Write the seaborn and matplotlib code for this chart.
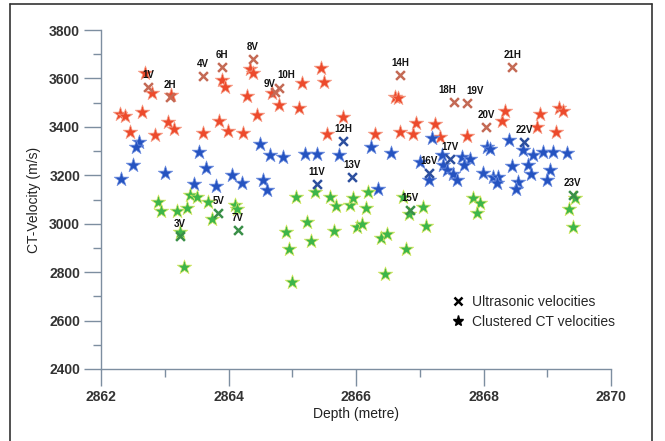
import numpy as np
import pandas as pd
import seaborn as sns
import matplotlib.pyplot as plt
from matplotlib.lines import Line2D
from matplotlib.ticker import MultipleLocator

# clustered CT velocities (depth in metre, velocity in m/s)
red_depth = [2862.30, 2862.38, 2862.64, 2862.45, 2862.85, 2863.05, 2863.15, 2862.69, 2862.80, 2863.10,
             2863.60, 2863.85, 2863.99, 2864.23, 2863.90, 2863.95, 2864.29, 2864.45, 2864.34, 2864.38,
             2864.68, 2864.79, 2865.15, 2865.45, 2865.50, 2865.11, 2865.55, 2865.80, 2866.30, 2866.61,
             2866.66, 2866.69, 2866.89, 2866.94, 2867.24, 2867.32, 2867.74, 2868.29, 2868.34, 2868.89,
             2868.84, 2869.14, 2869.18, 2869.25]
red_vel = [3453, 3445, 3461, 3379, 3366, 3420, 3391, 3622, 3540, 3532,
           3375, 3424, 3383, 3375, 3594, 3565, 3527, 3449, 3639, 3622,
           3540, 3490, 3581, 3643, 3585, 3478, 3371, 3441, 3371, 3523,
           3519, 3379, 3371, 3416, 3412, 3358, 3362, 3424, 3466, 3453,
           3400, 3379, 3478, 3466]

blue_depth = [2862.60, 2862.55, 2862.50, 2862.31, 2863.00, 2863.54, 2863.65, 2863.46, 2863.80, 2864.05,
              2864.21, 2864.49, 2864.65, 2864.85, 2864.54, 2864.60, 2865.20, 2865.39, 2865.73, 2866.24,
              2866.55, 2866.35, 2867.19, 2867.35, 2867.66, 2867.79, 2867.69, 2867.00, 2867.15, 2867.36,
              2867.43, 2867.52, 2867.58, 2867.99, 2868.05, 2868.10, 2868.40, 2868.45, 2868.15, 2868.23,
              2868.21, 2868.54, 2868.51, 2868.62, 2868.78, 2868.70, 2868.75, 2868.93, 2869.09, 2869.31,
              2869.04, 2869.00]
blue_vel = [3338, 3317, 3243, 3185, 3209, 3296, 3230, 3164, 3156, 3201,
            3168, 3329, 3284, 3276, 3181, 3139, 3288, 3288, 3284, 3317,
            3292, 3143, 3354, 3284, 3276, 3267, 3243, 3255, 3181, 3243,
            3222, 3205, 3181, 3209, 3317, 3309, 3346, 3238, 3193, 3193,
            3168, 3172, 3143, 3305, 3284, 3243, 3205, 3296, 3296, 3292,
            3222, 3181]

green_depth = [2862.89, 2862.94, 2863.19, 2863.35, 2863.40, 2863.51, 2863.68, 2863.74, 2864.10, 2864.13,
               2863.24, 2863.30, 2864.90, 2864.95, 2865.00, 2865.06, 2865.36, 2865.23, 2865.29, 2865.59,
               2865.69, 2865.65, 2865.91, 2865.95, 2866.19, 2866.16, 2866.02, 2866.09, 2866.39, 2866.49,
               2866.78, 2866.45, 2866.74, 2866.83, 2867.05, 2867.10, 2867.84, 2867.95, 2867.90, 2869.44,
               2869.34, 2869.40]
green_vel = [3090, 3053, 3053, 3065, 3119, 3110, 3090, 3020, 3077, 3061,
             2966, 2821, 2966, 2896, 2759, 3110, 3131, 3007, 2929, 3110,
             3073, 2970, 3077, 3106, 3131, 3065, 2986, 2999, 2941, 2958,
             2896, 2792, 3110, 3040, 3069, 2991, 3106, 3086, 3044, 3106,
             3061, 2986]

# ultrasonic velocities
us_label = ["1V", "2H", "3V", "4V", "5V", "6H", "7V", "8V", "9V", "10H", "11V", "12H",
            "13V", "14H", "15V", "16V", "17V", "18H", "19V", "20V", "21H", "22V", "23V"]
us_depth = [2862.74, 2863.08, 2863.24, 2863.60, 2863.84, 2863.90, 2864.15, 2864.38, 2864.73, 2864.79,
            2865.39, 2865.80, 2865.94, 2866.69, 2866.85, 2867.15, 2867.47, 2867.54, 2867.74, 2868.04,
            2868.45, 2868.64, 2869.40]
us_vel = [3565, 3523, 2949, 3610, 3044, 3647, 2974, 3680, 3544, 3561,
          3164, 3342, 3193, 3614, 3057, 3209, 3267, 3503, 3499, 3400,
          3647, 3338, 3119]
us_cluster = ["high", "high", "low", "high", "low", "high", "low", "high", "high", "high",
              "mid", "mid", "mid", "high", "low", "mid", "mid", "high", "high", "high",
              "high", "mid", "low"]

ct = pd.DataFrame({
    "depth": red_depth + blue_depth + green_depth,
    "vel": red_vel + blue_vel + green_vel,
    "cluster": ["high"] * len(red_vel) + ["mid"] * len(blue_vel) + ["low"] * len(green_vel),
})
us = pd.DataFrame({"depth": us_depth, "vel": us_vel, "cluster": us_cluster, "label": us_label})

star_pal = {"high": "#ec4a2c", "mid": "#2553c0", "low": "#3db54a"}
star_edge = {"high": "#f6a08a", "mid": "#6f8fe0", "low": "#d8e860"}
x_pal = {"high": "#c46a55", "mid": "#2d4f9e", "low": "#3a8f48"}

# labels that sit on top of each other get nudged apart
nudge = {"9V": (-4, 2), "10H": (5, 6), "18H": (-5, 5), "19V": (6, 5)}

sns.set_style("white")
plt.rcParams["font.family"] = ["Liberation Sans", "DejaVu Sans"]

fig = plt.figure(figsize=(6.65, 4.41), dpi=100)
ax = fig.add_axes([101 / 665, 1 - 369 / 441, 510 / 665, 339 / 441])

for key in ["high", "mid", "low"]:
    sub = ct[ct.cluster == key]
    sns.scatterplot(data=sub, x="depth", y="vel", marker="*", s=120, color=star_pal[key],
                    edgecolor=star_edge[key], linewidth=0.5, ax=ax, legend=False, zorder=2)

for key in ["high", "mid", "low"]:
    sub = us[us.cluster == key]
    sns.scatterplot(data=sub, x="depth", y="vel", marker="x", s=40, color=x_pal[key],
                    linewidth=1.8, ax=ax, legend=False, zorder=3)

for _, r in us.iterrows():
    dx, dy = nudge.get(r["label"], (0, 5))
    ax.annotate(r["label"], (r["depth"], r["vel"]), xytext=(dx, dy), textcoords="offset points",
                ha="center", va="bottom", fontsize=7, fontweight="bold", color="#111111", zorder=4)

ax.set_xlim(2862, 2870)
ax.set_ylim(2400, 3800)
ax.xaxis.set_major_locator(MultipleLocator(2))
ax.xaxis.set_minor_locator(MultipleLocator(1))
ax.yaxis.set_major_locator(MultipleLocator(200))
ax.yaxis.set_minor_locator(MultipleLocator(100))

axis_col = "#7d8ea0"
for side in ["top", "right"]:
    ax.spines[side].set_visible(False)
for side in ["left", "bottom"]:
    ax.spines[side].set_color(axis_col)
    ax.spines[side].set_linewidth(1.0)

ax.tick_params(which="major", direction="out", length=12, width=1.0, color=axis_col,
               labelsize=10, labelcolor="#333333", pad=3, left=True, bottom=True)
ax.tick_params(which="minor", direction="out", length=6, width=1.0, color=axis_col,
               left=True, bottom=True)
for t in ax.get_xticklabels() + ax.get_yticklabels():
    t.set_fontweight("bold")

ax.set_xlabel("Depth (metre)", fontsize=10, color="#222222", labelpad=2)
ax.set_ylabel("CT-Velocity (m/s)", fontsize=10, color="#222222", labelpad=6)

handles = [
    Line2D([], [], linestyle="none", marker="x", color="black", markersize=6, markeredgewidth=1.8),
    Line2D([], [], linestyle="none", marker="*", color="black", markersize=8),
]
ax.legend(handles, ["Ultrasonic velocities", "Clustered CT velocities"], loc="upper left",
          bbox_to_anchor=(0.66, 0.255), frameon=False, fontsize=10, handletextpad=0.4,
          labelspacing=0.4, handlelength=1.2)

# frame around the whole figure
fx0, fx1, fy1 = 10 / 665, 652 / 665, 1 - 4 / 441
for xs, ys in [([fx0, fx0], [0, fy1]), ([fx0, fx1], [fy1, fy1]), ([fx1, fx1], [0, fy1])]:
    fig.add_artist(Line2D(xs, ys, color="#333333", linewidth=1.2, transform=fig.transFigure))

fig.savefig("out.png", dpi=100)
